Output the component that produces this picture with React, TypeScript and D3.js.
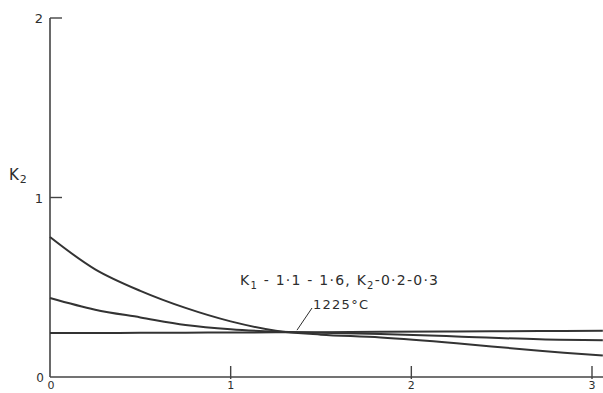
import React, { useEffect, useRef } from "react";
import * as d3 from "d3";

const xs = [0, 0.25, 0.5, 0.75, 1, 1.25, 1.5, 1.83, 2.25, 2.71, 3.06];
const curveHigh = [0.78, 0.6, 0.48, 0.385, 0.31, 0.258, 0.236, 0.22, 0.188, 0.146, 0.12];
const curveMid = [0.44, 0.375, 0.332, 0.29, 0.266, 0.253, 0.247, 0.24, 0.226, 0.21, 0.205];
const curveFlat = [0.245, 0.245, 0.246, 0.247, 0.248, 0.249, 0.25, 0.252, 0.254, 0.256, 0.257];
const series = [curveHigh, curveMid, curveFlat];

const yTicks = [1, 2];
const xTicks = [1, 2, 3];

export default function App() {
  const ref = useRef<SVGSVGElement>(null);

  useEffect(() => {
    const width = 603;
    const height = 393;
    const svg = d3.select(ref.current);
    svg.selectAll("*").remove();
    svg.attr("width", width).attr("height", height);

    const x = d3.scaleLinear().domain([0, 3]).range([50, 592]);
    const y = d3.scaleLinear().domain([0, 2]).range([377, 18]);
    const ink = "#2e2e2e";
    const font = "'DejaVu Sans', sans-serif";

    svg.append("rect").attr("width", width).attr("height", height).attr("fill", "#fff");

    // axes
    svg.append("line")
      .attr("x1", x(0)).attr("x2", x(0))
      .attr("y1", y(2)).attr("y2", y(0))
      .attr("stroke", "#444").attr("stroke-width", 1.6);
    svg.append("line")
      .attr("x1", x(0)).attr("x2", 603)
      .attr("y1", y(0)).attr("y2", y(0))
      .attr("stroke", "#444").attr("stroke-width", 1.6);

    svg.selectAll("line.ytick").data(yTicks).enter().append("line")
      .attr("class", "ytick")
      .attr("x1", x(0)).attr("x2", x(0) + 12)
      .attr("y1", d => y(d)).attr("y2", d => y(d))
      .attr("stroke", "#444").attr("stroke-width", 1.4);
    svg.selectAll("text.ylab").data(yTicks).enter().append("text")
      .attr("class", "ylab")
      .attr("x", x(0) - 7).attr("y", d => y(d) + 5)
      .attr("text-anchor", "end")
      .attr("font-family", font).attr("font-size", 13).attr("fill", ink)
      .text(d => d);

    svg.selectAll("line.xtick").data(xTicks).enter().append("line")
      .attr("class", "xtick")
      .attr("x1", d => x(d)).attr("x2", d => x(d))
      .attr("y1", y(0) + 2).attr("y2", y(0) - 11)
      .attr("stroke", "#444").attr("stroke-width", 1.4);
    svg.selectAll("text.xlab").data(xTicks).enter().append("text")
      .attr("class", "xlab")
      .attr("x", d => x(d)).attr("y", 389)
      .attr("text-anchor", "middle")
      .attr("font-family", font).attr("font-size", 11).attr("fill", ink)
      .text(d => d);

    // the two zeros at the origin
    svg.append("text").attr("x", 40).attr("y", 382)
      .attr("text-anchor", "middle").attr("font-family", font).attr("font-size", 12)
      .attr("fill", ink).text("0");
    svg.append("text").attr("x", 51).attr("y", 389)
      .attr("text-anchor", "middle").attr("font-family", font).attr("font-size", 11)
      .attr("fill", ink).text("0");

    // y label
    const yl = svg.append("text").attr("x", 9).attr("y", 180)
      .attr("font-family", font).attr("font-size", 15).attr("fill", ink);
    yl.append("tspan").text("K");
    yl.append("tspan").attr("font-size", 11).attr("dx", 1).attr("dy", 3).text("2");

    // curves
    const line = d3.line<number>()
      .x((_, i) => x(xs[i]))
      .y(d => y(d))
      .curve(d3.curveCatmullRom.alpha(0.5));
    series.forEach(s => {
      svg.append("path")
        .attr("d", line(s))
        .attr("fill", "none")
        .attr("stroke", "#333")
        .attr("stroke-width", 2);
    });

    // annotation
    const ann = svg.append("text").attr("x", 240).attr("y", 285)
      .attr("font-family", font).attr("font-size", 14).attr("fill", ink)
      .attr("textLength", 198).attr("lengthAdjust", "spacing");
    ann.append("tspan").text("K");
    ann.append("tspan").attr("font-size", 10).attr("dy", 4).text("1");
    ann.append("tspan").attr("dy", -4).text(" - 1·1 - 1·6, K");
    ann.append("tspan").attr("font-size", 10).attr("dy", 4).text("2");
    ann.append("tspan").attr("dy", -4).text("-0·2-0·3");

    svg.append("text").attr("x", 313).attr("y", 309)
      .attr("font-family", font).attr("font-size", 13).attr("fill", ink)
      .attr("textLength", 55).attr("lengthAdjust", "spacing")
      .text("1225°C");
    svg.append("line")
      .attr("x1", 297).attr("y1", y(0.25) - 2)
      .attr("x2", 312).attr("y2", 308)
      .attr("stroke", ink).attr("stroke-width", 1);
  }, []);

  return <svg ref={ref} style={{ position: "absolute", left: 0, top: 0 }} />;
}
